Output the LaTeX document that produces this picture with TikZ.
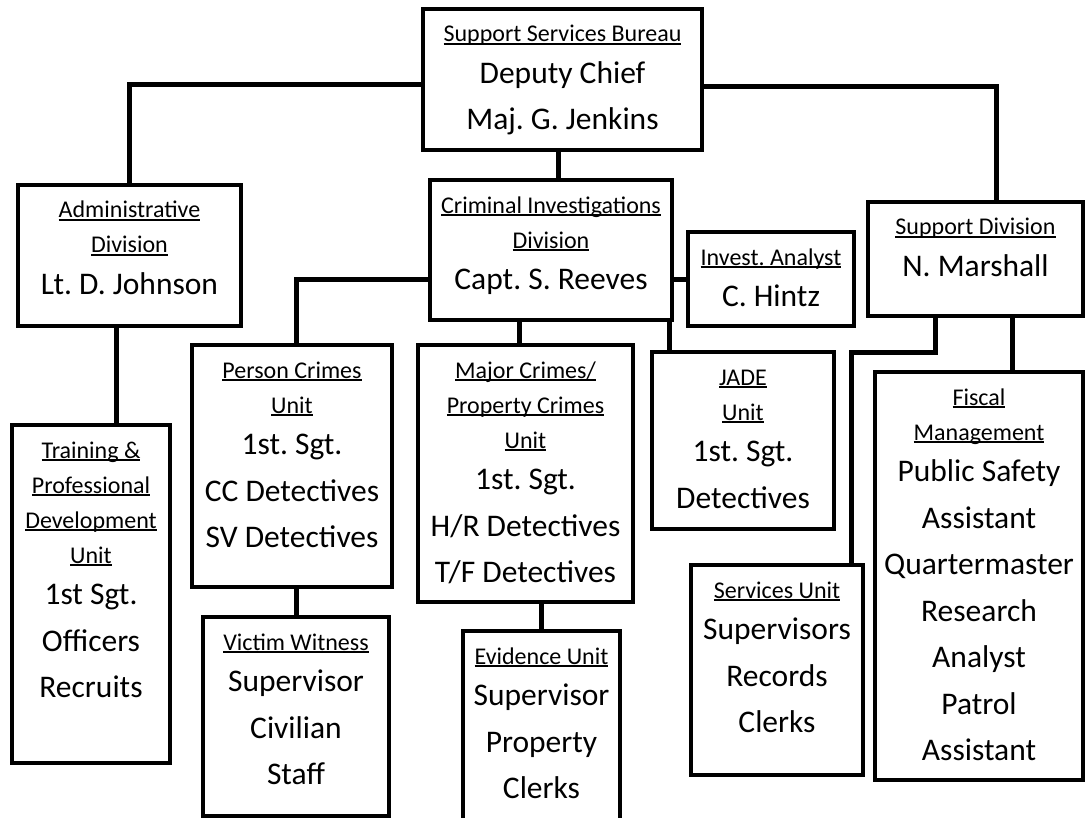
\documentclass[tikz,border=0pt]{standalone}
\usepackage{fontspec}
\setmainfont{Carlito}
\frenchspacing

\newcommand{\titlefont}{\fontsize{24}{35}\selectfont}
\newcommand{\namefont}{\fontsize{31.5}{41.5}\selectfont}
\newcommand{\restfont}{\fontsize{31.5}{46.5}\selectfont}
\newcommand{\undl}[1]{\leavevmode\setbox0\hbox{#1}\rlap{\vrule height -1.4pt depth 2.8pt width \wd0}\box0}
\newcommand{\ttl}[1]{\undl{#1}\\}
\newcommand{\fst}[1]{\namefont #1\\}
\newcommand{\nxt}[1]{\restfont #1\\}
\newcommand{\boxtext}[3]{\parbox[c][#2pt][t]{#1pt}{\centering\titlefont\rule{0pt}{33pt}#3}}

\tikzset{
  orgbox/.style={draw, line width=4pt, anchor=north west, inner sep=0pt, outer sep=0pt},
  link/.style={line width=5pt},
}

\begin{document}
\begin{tikzpicture}[x=1pt, y=-1pt]
    \useasboundingbox (0,0) rectangle (1086,818);

    % Bureau
    \node[orgbox] (ssb) at (423,9) {\boxtext{279}{141}{\ttl{Support Services Bureau}\fst{Deputy Chief}\nxt{Maj. G. Jenkins}}};

    % Divisions
    \node[orgbox] (adm) at (18,185) {\boxtext{223}{141}{\ttl{Administrative}\ttl{Division}\fst{Lt. D. Johnson}}};
    \node[orgbox] (cid) at (430,180) {\boxtext{242}{140}{\ttl{Criminal Investigations}\ttl{Division}\fst{Capt. S. Reeves}}};
    \node[orgbox] (ana) at (688,232) {\boxtext{166}{94}{\ttl{Invest. Analyst}\fst{C. Hintz}}};
    \node[orgbox] (sup) at (868,202) {\boxtext{215}{114}{\ttl{Support Division}\fst{N. Marshall}}};

    % Units
    \node[orgbox] (trn) at (12,425) {\boxtext{158}{338}{\ttl{Training \&}\ttl{Professional}\ttl{Development}\ttl{Unit}\fst{1st Sgt.}\nxt{Officers}\nxt{Recruits}}};
    \node[orgbox] (pc) at (192,345) {\boxtext{200}{242}{\ttl{Person Crimes}\ttl{Unit}\fst{1st. Sgt.}\nxt{CC Detectives}\nxt{SV Detectives}}};
    \node[orgbox] (maj) at (418,345) {\boxtext{215}{257}{\ttl{Major Crimes/}\ttl{Property Crimes}\ttl{Unit}\fst{1st. Sgt.}\nxt{H/R Detectives}\nxt{T/F Detectives}}};
    \node[orgbox] (jade) at (652,352) {\boxtext{182}{177}{\ttl{JADE}\ttl{Unit}\fst{1st. Sgt.}\nxt{Detectives}}};
    \node[orgbox] (vw) at (203,617) {\boxtext{186}{199}{\ttl{Victim Witness}\fst{Supervisor}\nxt{Civilian}\nxt{Staff}}};
    \node[orgbox] (evi) at (463,631) {\boxtext{157}{209}{\ttl{Evidence Unit}\fst{Supervisor}\nxt{Property}\nxt{Clerks}}};
    \node[orgbox] (svc) at (691,565) {\boxtext{172}{210}{\ttl{Services Unit}\fst{Supervisors}\nxt{Records}\nxt{Clerks}}};
    \node[orgbox] (fis) at (875,372) {\boxtext{208}{408}{\ttl{Fiscal}\ttl{Management}\fst{Public Safety}\nxt{Assistant}\nxt{Quartermaster}\nxt{Research}\nxt{Analyst}\nxt{Patrol}\nxt{Assistant}}};

    % Bureau to divisions
    \draw[link] ([yshift=-5pt]ssb.west) -| (adm.north);
    \draw[link] ([yshift=-7pt]ssb.east) -| ([xshift=21pt]sup.north);
    \draw[link] ([xshift=-4pt]ssb.south) -- ([xshift=-4pt]ssb.south |- cid.north);

    % Criminal Investigations Division
    \draw[link] (ana.west) -- (ana.west -| cid.east);
    \draw[link] ([yshift=-29pt]cid.west) -| ([xshift=4pt]pc.north);
    \draw[link] ([xshift=-6pt]maj.north) -- ([xshift=-6pt]maj.north |- cid.south);
    \draw[link] ([xshift=-3pt]cid.south east) -- ([xshift=-3pt]cid.south east |- jade.north);

    % Administrative Division
    \draw[link] ([xshift=-13pt]adm.south) -- ([xshift=-13pt]adm.south |- trn.north);

    % Units under units
    \foreach \up/\down in {pc/vw, maj/evi}
      \draw[link] (\down.north) -- (\down.north |- \up.south);

    % Support Division
    \draw[link] ([xshift=-40pt]sup.south) -- ++(0,36) -| ([xshift=-12pt]svc.north east);
    \draw[link] ([xshift=37pt]sup.south) -- ([xshift=37pt]sup.south |- fis.north);

\end{tikzpicture}
\end{document}
